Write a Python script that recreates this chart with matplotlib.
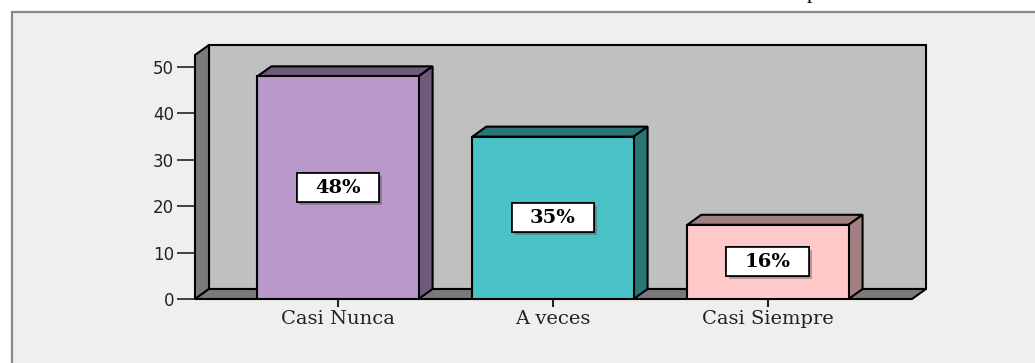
import numpy as np
import matplotlib
matplotlib.use('Agg')
import matplotlib.pyplot as plt
from matplotlib.patches import Rectangle, Polygon
from matplotlib.path import Path
import matplotlib.patheffects as pe

# data
categories = ['Casi Nunca', 'A veces', 'Casi Siempre']
values = [48, 35, 16]
labels = ['48%', '35%', '16%']
y_ticks = [0, 10, 20, 30, 40, 50]

front_colors = ['#b899c9', '#48c2c7', '#ffc9c9']
side_colors = ['#6f5a7a', '#2b7577', '#a08080']

W, H, DPI = 1035, 363, 100
fig = plt.figure(figsize=(W / DPI, H / DPI), dpi=DPI)
fig.patch.set_facecolor('white')

# light panel with gray border (runs off the right / bottom edge)
fig.patches.append(Rectangle((12 / W, -0.1), 1.1, 1 - 12 / H + 0.1,
                             transform=fig.transFigure, facecolor='#efefef',
                             edgecolor='#8a8a8a', lw=1.6, zorder=-1))
# descender of a letter from the text above the picture
fig.text(812 / W, 1 + 1.5 / H, 'p', fontfamily='Liberation Serif', fontsize=16,
         ha='center', va='baseline')

# axes box = front plane of the 3D frame
ax_l, ax_r, ax_b, ax_t = 195, 912, 299, 55
ax = fig.add_axes([ax_l / W, (H - ax_b) / H, (ax_r - ax_l) / W, (ax_b - ax_t) / H])
ax.patch.set_visible(False)
x0, x1 = -0.665, 2.67
ymax = 52.6
ax.set_xlim(x0, x1)
ax.set_ylim(0, ymax)
for s in ax.spines.values():
    s.set_visible(False)

# depth offset (pixels) converted to data units
sx = (ax_r - ax_l) / (x1 - x0)
sy = (ax_b - ax_t) / ymax
ddx, ddy = 14 / sx, 10 / sy

# back wall, left wall, floor
ax.add_patch(Rectangle((x0 + ddx, ddy), x1 - x0, ymax, facecolor='#c0c0c0',
                       edgecolor='black', lw=1.5, clip_on=False, zorder=1))
ax.add_patch(Polygon([(x0, 0), (x0, ymax), (x0 + ddx, ymax + ddy), (x0 + ddx, ddy)],
                     closed=True, facecolor='#7a7a7a', edgecolor='black', lw=1.5,
                     clip_on=False, zorder=2))
ax.add_patch(Polygon([(x0, 0), (x1, 0), (x1 + ddx, ddy), (x0 + ddx, ddy)],
                     closed=True, facecolor='#7a7a7a', edgecolor='black', lw=1.5,
                     clip_on=False, zorder=2))

# bars
x = np.arange(len(categories))
bw = 0.75
bars = ax.bar(x, values, width=bw, color=front_colors, edgecolor='black', lw=1.5, zorder=5)
for b, v, c in zip(bars, values, side_colors):
    l = b.get_x()
    r = l + b.get_width()
    ax.add_patch(Polygon([(l, v), (r, v), (r + ddx, v + ddy), (l + ddx, v + ddy)],
                         closed=True, facecolor=c, edgecolor='black', lw=1.5,
                         clip_on=False, zorder=4))
    ax.add_patch(Polygon([(r, 0), (r, v), (r + ddx, v + ddy), (r + ddx, ddy)],
                         closed=True, facecolor=c, edgecolor='black', lw=1.5,
                         clip_on=False, zorder=4))


def wide_box(x0, y0, width, height, mutation_size):
    # label box with more room left/right than top/bottom
    px = 0.95 * mutation_size
    py = 0.28 * mutation_size
    xa, xb = x0 - px, x0 + width + px
    ya, yb = y0 - py, y0 + height + py
    return Path([(xa, ya), (xb, ya), (xb, yb), (xa, yb), (xa, ya)], closed=True)


# percentage boxes
for xi, v, lab in zip(x, values, labels):
    t = ax.text(xi, v / 2, lab, ha='center', va='center', fontfamily='DejaVu Serif',
                fontweight='bold', fontsize=14, zorder=7,
                bbox=dict(boxstyle=wide_box, facecolor='white',
                          edgecolor='black', lw=1.2))
    t.get_bbox_patch().set_path_effects([pe.withSimplePatchShadow(offset=(2, -2), alpha=0.4),
                                         pe.Normal()])

# ticks
ax.set_yticks(y_ticks)
ax.tick_params(axis='y', length=13, width=1.2, pad=2, labelsize=12, colors='#222222')
ax.set_xticks(x)
ax.set_xticklabels(categories, fontfamily='DejaVu Serif', fontsize=14)
ax.tick_params(axis='x', length=6, width=1.5, pad=2, colors='#222222')

fig.savefig('out.png', dpi=DPI, facecolor=fig.get_facecolor())
